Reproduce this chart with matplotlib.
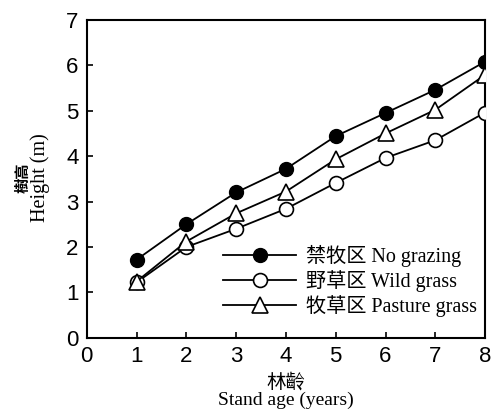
import matplotlib
matplotlib.use("Agg")
import matplotlib.pyplot as plt

# stand age (years)
age = [1, 2, 3, 4, 5, 6, 7, 8]

# tree height (m)
no_grazing = [1.72, 2.50, 3.20, 3.72, 4.44, 4.95, 5.46, 6.08]
wild_grass = [1.22, 2.00, 2.40, 2.84, 3.41, 3.96, 4.35, 4.96]
pasture_grass = [1.24, 2.12, 2.74, 3.22, 3.93, 4.50, 5.02, 5.79]

labels = ["禁牧区 No grazing", "野草区 Wild grass", "牧草区 Pasture grass"]

mixed_font = ["Liberation Serif", "Noto Sans CJK TC"]

fig = plt.figure(figsize=(4.93, 4.13), dpi=100)
ax = fig.add_axes([0.176, 0.182, 0.808, 0.770])

ax.plot(age, no_grazing, color="black", lw=1.3, marker="o", ms=10,
        mfc="black", mec="black", label=labels[0], zorder=3)
ax.plot(age, wild_grass, color="black", lw=1.3, marker="o", ms=10,
        mfc="white", mec="black", mew=1.2, label=labels[1], zorder=3)
ax.plot(age, pasture_grass, color="black", lw=1.3, marker="^", ms=11,
        mfc="white", mec="black", mew=1.2, label=labels[2], zorder=4)

ax.set_xlim(0, 8)
ax.set_ylim(0, 7)
ax.set_xticks(range(0, 9))
ax.set_yticks(range(0, 8))

for s in ax.spines.values():
    s.set_linewidth(1.5)
    s.set_color("black")

ax.tick_params(direction="in", length=4, width=1.2, pad=6,
               labelsize=16, top=False, right=False)
for t in ax.get_xticklabels() + ax.get_yticklabels():
    t.set_family("Liberation Sans")

ax.set_xlabel("林齡\nStand age (years)", family=mixed_font, fontsize=14,
              linespacing=1.0, labelpad=4)

# y label: bold Chinese line plus plain English line
fig.text(0.046, 0.569, "樹高", rotation=90, ha="center", va="center",
         family="Noto Sans CJK TC", fontweight="bold", fontsize=11)
fig.text(0.082, 0.569, "Height (m)", rotation=90, ha="center", va="center",
         family="Liberation Serif", fontsize=14.5)

leg = ax.legend(loc="lower right", frameon=False, handlelength=3.6,
                handletextpad=0.5, labelspacing=0.15, borderaxespad=0.0,
                bbox_to_anchor=(1.0, 0.04), prop={"family": mixed_font, "size": 14.5})

fig.savefig("out.png", dpi=100)
